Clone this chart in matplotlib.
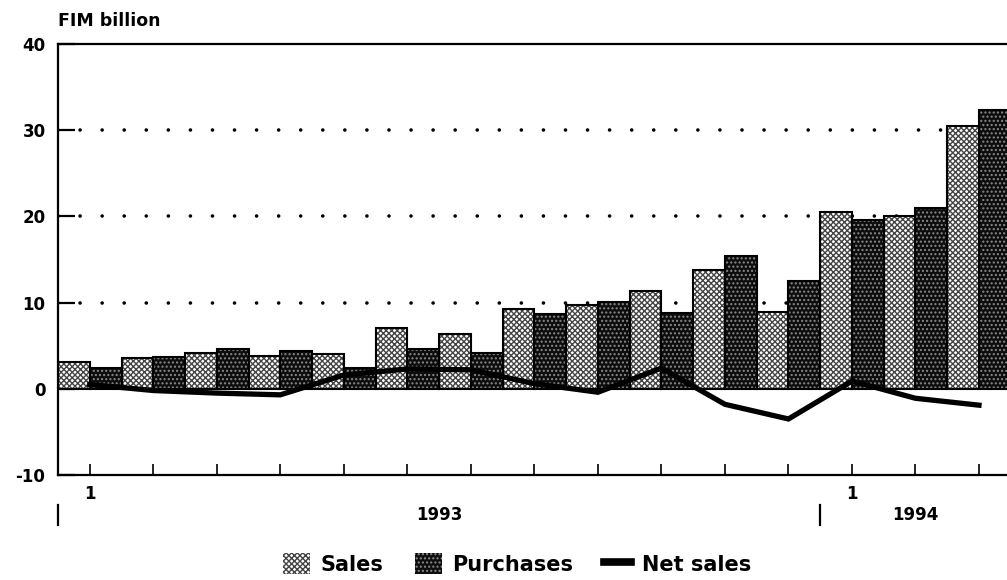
import matplotlib
matplotlib.use("Agg")
import matplotlib.pyplot as plt
import matplotlib.transforms as mtransforms
from matplotlib.patches import Patch
from matplotlib.lines import Line2D
import numpy as np

# ---- data (FIM billion, monthly Jan 1993 - Mar 1994) ----
months = ["1", "", "", "", "", "", "", "", "", "", "", "", "1", "", ""]
sales = [3.1, 3.6, 4.2, 3.8, 4.0, 7.0, 6.4, 9.3, 9.7, 11.3, 13.8, 8.9, 20.5, 20.0, 30.5]
purchases = [2.4, 3.7, 4.6, 4.4, 2.4, 4.6, 4.2, 8.7, 10.1, 8.8, 15.4, 12.5, 19.6, 21.0, 32.4]
net_sales = [0.5, -0.2, -0.5, -0.7, 1.6, 2.3, 2.2, 0.6, -0.4, 2.4, -1.8, -3.5, 0.9, -1.1, -1.9]
years = ["1993", "1994"]
year_label_pos = [5.5, 13.0]
year_sep_pos = [-0.5, 11.5]
y_ticks = [-10, 0, 10, 20, 30, 40]

plt.rcParams['font.family'] = ['DejaVu Sans']
plt.rcParams['hatch.linewidth'] = 1.0

fig = plt.figure(figsize=(10.07, 5.8), dpi=100)
ax = fig.add_axes([58 / 1007, 1 - 475 / 580, 1 - 58 / 1007, 431 / 580])

x = np.arange(len(sales))
w = 0.5

SALES_HATCH = 'xxxxxx'
SALES_HC = '#444444'
PURCH_FACE = '#0d0d0d'
PURCH_HC = '#8a8a8a'
PURCH_HATCH = '....'

# grid dotted lines
for gy in [10, 20, 30]:
    ax.axhline(gy, color='black', lw=2.6, linestyle=(0, (0.01, 6.1)),
               dash_capstyle='round', zorder=1)

# Sales bars: light checker
ax.bar(x - w / 2, sales, width=w, facecolor='white', edgecolor=SALES_HC,
       hatch=SALES_HATCH, linewidth=0, zorder=2)
ax.bar(x - w / 2, sales, width=w, facecolor='none', edgecolor='black',
       linewidth=1.5, zorder=3)
# Purchases bars: dark stipple
ax.bar(x + w / 2, purchases, width=w, facecolor=PURCH_FACE, edgecolor=PURCH_HC,
       hatch=PURCH_HATCH, linewidth=0, zorder=2)
ax.bar(x + w / 2, purchases, width=w, facecolor='none', edgecolor='black',
       linewidth=1.5, zorder=3)

# Net sales line
ax.plot(x, net_sales, color='black', lw=3.8, solid_joinstyle='miter', zorder=4)

ax.set_xlim(-0.5, (1007 - 90) / 63.5)
ax.set_ylim(-10, 40)

ax.spines['right'].set_visible(False)
for s in ['left', 'top', 'bottom']:
    ax.spines[s].set_linewidth(1.6)

ax.set_yticks(y_ticks)
ax.set_yticklabels([str(v) for v in y_ticks], fontsize=12, fontweight='bold')
ax.tick_params(axis='y', direction='in', length=12, width=1.6, pad=9)
ax.set_xticks(x)
ax.set_xticklabels(months, fontsize=12, fontweight='bold')
ax.tick_params(axis='x', direction='in', length=8, width=1.2, pad=7)

trans = mtransforms.blended_transform_factory(ax.transData, ax.transAxes)
for xs in year_sep_pos:
    ax.plot([xs, xs], [-0.069, -0.116], color='black', lw=1.6,
            transform=trans, clip_on=False)
for xl, lab in zip(year_label_pos, years):
    ax.text(xl, -0.093, lab, transform=trans, ha='center', va='center',
            fontsize=12, fontweight='bold')

fig.text(58 / 1007, 1 - 21 / 580, "FIM billion", ha='left', va='center',
         fontsize=12.5, fontweight='bold')

handles = [
    Patch(facecolor='white', edgecolor=SALES_HC, hatch=SALES_HATCH, linewidth=0),
    Patch(facecolor=PURCH_FACE, edgecolor=PURCH_HC, hatch=PURCH_HATCH, linewidth=0),
    Line2D([0], [0], color='black', lw=5.5),
]
leg = fig.legend(handles, ["Sales", "Purchases", "Net sales"], loc='center',
                 bbox_to_anchor=(517 / 1007, 1 - 564 / 580), ncol=3,
                 frameon=False, handlelength=1.3, handleheight=1.15,
                 handletextpad=0.5, columnspacing=1.5,
                 prop={'size': 15, 'weight': 'bold'})

fig.savefig("out.png", dpi=100)
